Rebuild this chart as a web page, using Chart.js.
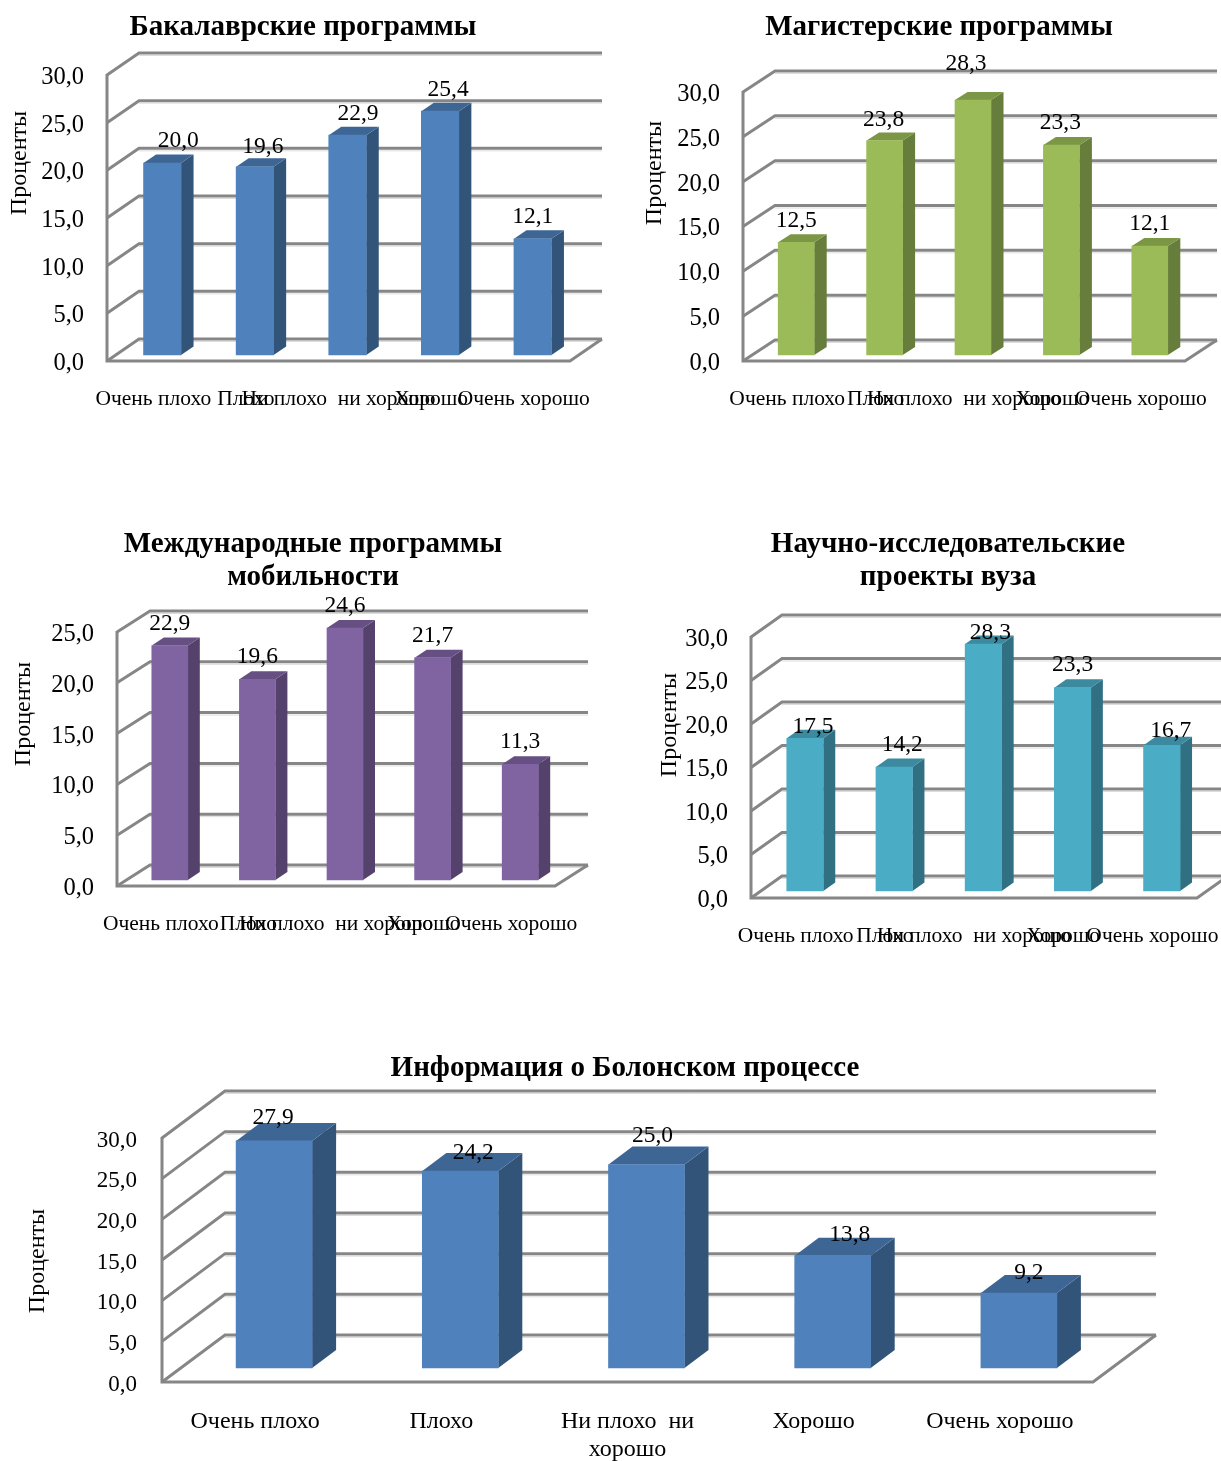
<!DOCTYPE html>
<html lang="ru">
<head>
<meta charset="utf-8">
<title>Оценка программ</title>
<script src="https://cdn.jsdelivr.net/npm/chart.js@4"></script>
<style>
    html, body { margin: 0; padding: 0; background: #fff; overflow: hidden; }
    body { width: 1221px; height: 1461px; position: relative; }
    canvas { position: absolute; }
</style>
</head>
<body>
<canvas id="bachelorChart"></canvas>
<canvas id="masterChart"></canvas>
<canvas id="mobilityChart"></canvas>
<canvas id="researchChart"></canvas>
<canvas id="bolognaChart"></canvas>
<script>
// DATA
const categories = ['Очень плохо', 'Плохо', 'Ни плохо  ни хорошо', 'Хорошо', 'Очень хорошо'];
const categoriesWrapped = ['Очень плохо', 'Плохо', ['Ни плохо  ни', 'хорошо'], 'Хорошо', 'Очень хорошо'];
const bachelorValues = [20.0, 19.6, 22.9, 25.4, 12.1];
const masterValues = [12.5, 23.8, 28.3, 23.3, 12.1];
const mobilityValues = [22.9, 19.6, 24.6, 21.7, 11.3];
const researchValues = [17.5, 14.2, 28.3, 23.3, 16.7];
const bolognaValues = [27.9, 24.2, 25.0, 13.8, 9.2];
const axisTitle = 'Проценты';

const FONT = '"Liberation Serif", serif';
const GRID_COLOR = '#868686';

function comma(v) {
    return Number(v).toFixed(1).replace('.', ',');
}

// 3D walls, bar sides and value labels, all taken from the chart scales
const fake3d = {
    id: 'fake3d',
    beforeDatasetsDraw: function (chart) {
        const o = chart.options.plugins.fake3d;
        const ctx = chart.ctx;
        const area = chart.chartArea;
        const yScale = chart.scales.y;
        const frontLeft = area.left - o.shift;
        const frontRight = area.right - o.shift;
        const backRight = frontRight + o.wallDx;

        ctx.save();
        ctx.lineCap = 'butt';
        // walls
        yScale.ticks.forEach(function (tick) {
            const py = yScale.getPixelForValue(tick.value);
            const by = py - o.wallDy;
            ctx.strokeStyle = '#dcdcdc';
            ctx.lineWidth = 1;
            ctx.beginPath();
            ctx.moveTo(frontLeft + o.wallDx, by + 2.5);
            ctx.lineTo(backRight, by + 2.5);
            ctx.stroke();
            ctx.strokeStyle = GRID_COLOR;
            ctx.lineWidth = o.gridWidth;
            ctx.beginPath();
            ctx.moveTo(frontLeft, py);
            ctx.lineTo(frontLeft + o.wallDx, by);
            ctx.lineTo(backRight, by);
            ctx.stroke();
        });
        // front axis and floor
        const y0 = yScale.getPixelForValue(yScale.min);
        ctx.strokeStyle = GRID_COLOR;
        ctx.lineWidth = o.gridWidth;
        ctx.beginPath();
        ctx.moveTo(frontLeft, yScale.getPixelForValue(yScale.max) - 1);
        ctx.lineTo(frontLeft, y0);
        ctx.lineTo(frontRight, y0);
        ctx.lineTo(backRight, y0 - o.wallDy);
        ctx.stroke();

        // bar sides and tops
        chart.getDatasetMeta(0).data.forEach(function (bar) {
            const p = bar.getProps(['x', 'y', 'base', 'width'], true);
            const l = p.x - p.width / 2;
            const r = p.x + p.width / 2;
            ctx.fillStyle = o.sideColor;
            ctx.beginPath();
            ctx.moveTo(r, p.y);
            ctx.lineTo(r + o.barDx, p.y - o.barDy);
            ctx.lineTo(r + o.barDx, p.base - o.barDy);
            ctx.lineTo(r, p.base);
            ctx.closePath();
            ctx.fill();
            ctx.fillStyle = o.topColor;
            ctx.beginPath();
            ctx.moveTo(l, p.y);
            ctx.lineTo(l + o.barDx, p.y - o.barDy);
            ctx.lineTo(r + o.barDx, p.y - o.barDy);
            ctx.lineTo(r, p.y);
            ctx.closePath();
            ctx.fill();
        });
        ctx.restore();
    },
    afterDatasetsDraw: function (chart) {
        const o = chart.options.plugins.fake3d;
        const ctx = chart.ctx;
        const values = chart.data.datasets[0].data;

        ctx.save();
        ctx.fillStyle = '#000';
        ctx.textAlign = 'center';
        ctx.textBaseline = 'middle';
        ctx.font = o.valueSize + 'px ' + FONT;
        chart.getDatasetMeta(0).data.forEach(function (bar, i) {
            const p = bar.getProps(['x', 'y'], true);
            ctx.fillText(comma(values[i]), p.x + o.labelNudge[i][0], p.y + o.labelNudge[i][1] + 2);
        });
        // axis title sits off centre in the original, so it is placed here
        ctx.font = o.axisTitleSize + 'px ' + FONT;
        ctx.translate(o.axisTitleX - o.left, o.axisTitleY - o.top);
        ctx.rotate(-Math.PI / 2);
        ctx.fillText(axisTitle, 0, 0);
        ctx.restore();
    }
};

function drawChart(id, labels, values, title, o) {
    const canvas = document.getElementById(id);
    canvas.width = o.width;
    canvas.height = o.height;
    canvas.style.left = o.left + 'px';
    canvas.style.top = o.top + 'px';
    canvas.style.width = o.width + 'px';
    canvas.style.height = o.height + 'px';

    const titleLine = 33;
    const titleTop = o.titleY + 2 - o.top - titleLine / 2;
    const titleBottom = o.axisTop - o.top - titleTop - title.length * titleLine;

    return new Chart(canvas, {
        type: 'bar',
        data: {
            labels: labels,
            datasets: [{
                data: values,
                yAxisID: 'yBars',
                backgroundColor: o.color,
                borderWidth: 0,
                barThickness: o.barWidth,
                clip: false
            }]
        },
        plugins: [fake3d],
        options: {
            responsive: false,
            animation: false,
            layout: { autoPadding: false, padding: 0 },
            plugins: {
                legend: { display: false },
                tooltip: { enabled: false },
                title: {
                    display: true,
                    text: title,
                    color: '#000',
                    font: { family: FONT, size: 29, weight: 'bold', lineHeight: titleLine / 29 },
                    padding: { top: titleTop, bottom: titleBottom }
                },
                fake3d: o
            },
            scales: {
                x: {
                    grid: { display: false, drawTicks: false },
                    border: { display: false },
                    ticks: {
                        color: '#000',
                        font: { family: FONT, size: o.xSize, lineHeight: 1.2 },
                        padding: o.xPadding,
                        labelOffset: -o.shift,
                        autoSkip: false,
                        minRotation: 0,
                        maxRotation: 0
                    },
                    afterFit: function (scale) {
                        scale.height = o.top + o.height - o.axisBottom;
                        // overlapping labels must not push the plot area in
                        scale.paddingLeft = 0;
                        scale.paddingRight = 0;
                    }
                },
                y: {
                    min: 0,
                    max: o.yMax,
                    grid: { display: false, drawTicks: false },
                    border: { display: false },
                    ticks: {
                        stepSize: 5,
                        color: '#000',
                        font: { family: FONT, size: o.ySize },
                        padding: o.yPadding + o.shift,
                        labelOffset: 2.5,
                        callback: comma
                    },
                    afterFit: function (scale) {
                        scale.width = o.axisLeft + o.shift - o.left;
                    }
                },
                // bars stand a little in front of the axis plane
                yBars: {
                    display: false,
                    min: o.barMin,
                    max: o.barMax
                },
                // empty axis, keeps room for the back wall and the title centred on the canvas
                yRoom: {
                    position: 'right',
                    grid: { display: false, drawTicks: false },
                    border: { display: false },
                    ticks: { display: false },
                    afterFit: function (scale) {
                        scale.width = o.left + o.width - (o.axisRight + o.shift);
                    }
                }
            }
        }
    });
}

// BACHELOR CHART
drawChart('bachelorChart', categories, bachelorValues, ['Бакалаврские программы'], {
    left: 0, top: 0, width: 606, height: 430,
    axisLeft: 107, axisRight: 570, axisTop: 75, axisBottom: 361, shift: 9, yMax: 30,
    barMin: -0.625, barMax: 29.17, barWidth: 37.5, barDx: 12.5, barDy: 8.5,
    wallDx: 32, wallDy: 22, gridWidth: 3, titleY: 26,
    color: '#4F81BD', sideColor: '#335479', topColor: '#3E6694',
    xSize: 21.5, xPadding: 25, ySize: 24.5, yPadding: 23, valueSize: 23.5,
    axisTitleSize: 24, axisTitleX: 20, axisTitleY: 163,
    labelNudge: [[16, -24], [8, -22], [10.5, -23], [8, -23], [0, -24]]
});

// MASTER CHART
drawChart('masterChart', categories, masterValues, ['Магистерские программы'], {
    left: 639, top: 0, width: 600, height: 430,
    axisLeft: 743, axisRight: 1185, axisTop: 92, axisBottom: 361, shift: 9, yMax: 30,
    barMin: -0.67, barMax: 29.19, barWidth: 36, barDx: 12.5, barDy: 8,
    wallDx: 32, wallDy: 21, gridWidth: 3, titleY: 26,
    color: '#9BBB59', sideColor: '#677D3B', topColor: '#7B9644',
    xSize: 21.5, xPadding: 25, ySize: 24.5, yPadding: 23, valueSize: 23.5,
    axisTitleSize: 24, axisTitleX: 655, axisTitleY: 173,
    labelNudge: [[0, -24], [-1, -23], [-7, -38], [-1, -24], [0, -24]]
});

// MOBILITY CHART
drawChart('mobilityChart', categories, mobilityValues, ['Международные программы', 'мобильности'], {
    left: 0, top: 510, width: 626, height: 440,
    axisLeft: 117, axisRight: 555, axisTop: 632, axisBottom: 886, shift: 9, yMax: 25,
    barMin: -0.586, barMax: 24.22, barWidth: 36, barDx: 12, barDy: 8,
    wallDx: 33, wallDy: 21, gridWidth: 3, titleY: 543,
    color: '#8064A2', sideColor: '#55426C', topColor: '#664F82',
    xSize: 21.5, xPadding: 25, ySize: 24.5, yPadding: 23, valueSize: 23.5,
    axisTitleSize: 24, axisTitleX: 24, axisTitleY: 714,
    labelNudge: [[0, -24], [0, -24], [0, -24], [0, -24], [0, -24]]
});

// RESEARCH CHART
drawChart('researchChart', categories, researchValues, ['Научно-исследовательские', 'проекты вуза'], {
    left: 648, top: 510, width: 600, height: 450,
    axisLeft: 751, axisRight: 1197, axisTop: 637, axisBottom: 898, shift: 9.4, yMax: 30,
    barMin: -0.8, barMax: 29.1, barWidth: 36.5, barDx: 12, barDy: 8.5,
    wallDx: 31, wallDy: 22, gridWidth: 3, titleY: 543,
    color: '#4BACC6', sideColor: '#316F82', topColor: '#3B8AA0',
    xSize: 21.5, xPadding: 25, ySize: 24.5, yPadding: 23, valueSize: 23.5,
    axisTitleSize: 24, axisTitleX: 670, axisTitleY: 725,
    labelNudge: [[8, -13], [8, -24], [7, -13], [0, -25], [9, -16]]
});

// BOLOGNA CHART
drawChart('bolognaChart', categoriesWrapped, bolognaValues, ['Информация о Болонском процессе'], {
    left: 0, top: 1040, width: 1250, height: 421,
    axisLeft: 162, axisRight: 1093, axisTop: 1138, axisBottom: 1382, shift: 19, yMax: 30,
    barMin: -1.72, barMax: 28.26, barWidth: 76, barDx: 24, barDy: 18,
    wallDx: 63, wallDy: 47, gridWidth: 3, titleY: 1067,
    color: '#4F81BD', sideColor: '#335479', topColor: '#3E6694',
    xSize: 24, xPadding: 25, ySize: 23, yPadding: 25, valueSize: 23.5,
    axisTitleSize: 24, axisTitleX: 38, axisTitleY: 1261,
    labelNudge: [[-1, -25], [13, -20], [6, -31], [17, -23], [10, -22]]
});
</script>
</body>
</html>
